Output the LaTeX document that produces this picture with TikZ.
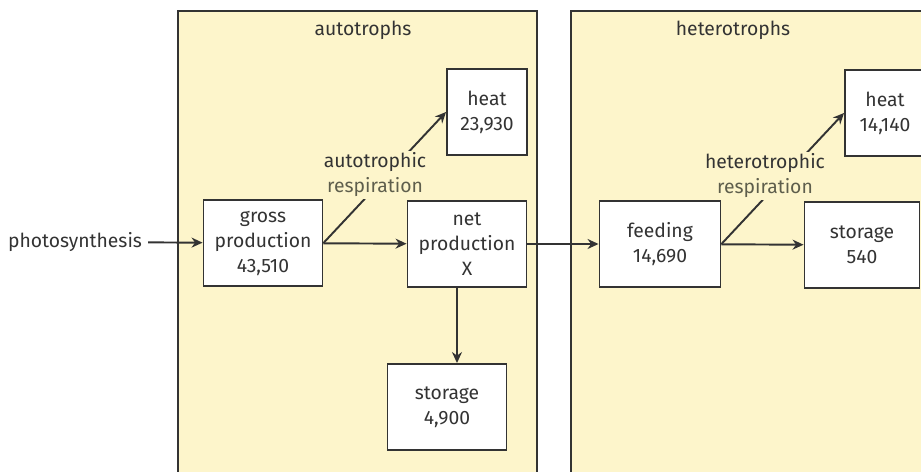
\documentclass[tikz,border=0pt]{standalone}
\usepackage{fontspec}
\setmainfont{Fira Sans}
\usetikzlibrary{arrows.meta,positioning}
\definecolor{panelfill}{HTML}{FDF5CB}
\definecolor{ink}{HTML}{333333}
\definecolor{respink}{HTML}{5E5E4C}

\begin{document}
\begin{tikzpicture}[x=0.02cm, y=-0.02cm,
  font=\fontsize{11}{14.2}\selectfont, text=ink,
  panel/.style={draw=ink, line width=1.1pt, fill=panelfill},
  box/.style={rectangle, draw=ink, line width=1.1pt, fill=white, minimum width=#1, minimum height=1.72cm, align=center, inner sep=1pt},
  box/.default=2.38cm,
  lbl/.style={fill=panelfill, align=center, inner sep=1pt},
  arr/.style={-{Stealth[length=2.2mm, width=2mm]}, line width=1.1pt, draw=ink}
]
  \useasboundingbox (0,0) rectangle (921,472);
  \clip (0,0) rectangle (921,472);

  % the two groups
  \draw[panel] (178,11) rectangle (537,490);
  \draw[panel] (571,11) rectangle (940,490);
  \node (tA) at (363,30) {autotrophs};
  \node (tH) at (733,30) {heterotrophs};

  % autotrophs
  \node (ps) at (75,242) {photosynthesis};
  \node[box] (a1) at (263,243) {gross\\production\\43,510};
  \node[box] (a2) at (467,244) {net\\production\\X};
  \node[box=1.6cm] (a3) at (487,112) {heat\\23,930};
  \node[box] (a4) at (447,407) {storage\\4,900};

  % heterotrophs
  \node[box=2.42cm] (h1) at (660,244) {feeding\\14,690};
  \node[box=2.3cm] (h2) at (862,245) {storage\\540};
  \node[box=1.6cm] (h3) at (885,113) {heat\\14,140};

  \draw[arr] (ps) -- (a1);
  \draw[arr] (a1) -- (a2);
  \draw[arr] (a1.east) -- (a3.west);
  \draw[arr] ([xshift=-0.2cm]a2.south) -- ([xshift=0.2cm]a4.north);
  \draw[arr] (a2) -- (h1);
  \draw[arr] (h1) -- (h2);
  \draw[arr] (h1.east) -- (h3.west);

  \node[lbl] (rA) at (375,175) {autotrophic\\\textcolor{respink}{respiration}};
  \node[lbl] (rH) at (765,176) {heterotrophic\\\textcolor{respink}{respiration}};
\end{tikzpicture}
\end{document}
